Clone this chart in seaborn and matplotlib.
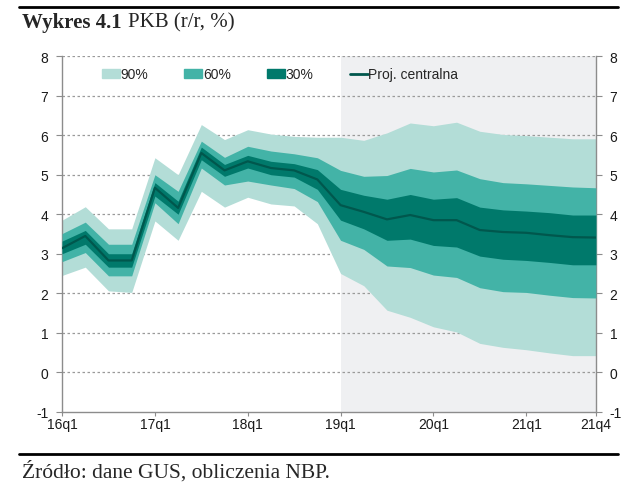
import numpy as np
import pandas as pd
import matplotlib
matplotlib.use("Agg")
import matplotlib.pyplot as plt
import seaborn as sns
from matplotlib.patches import Patch
from matplotlib.lines import Line2D

# quarters 16q1 .. 21q4
quarters = [f"{y}q{q}" for y in range(16, 22) for q in range(1, 5)]

central = [3.14, 3.45, 2.83, 2.83, 4.67, 4.16, 5.55, 5.11, 5.34, 5.17, 5.11, 4.88,
           4.23, 4.06, 3.87, 3.98, 3.85, 3.85, 3.60, 3.55, 3.53, 3.47, 3.42, 3.41]

hi30 = [3.32, 3.59, 3.00, 3.00, 4.80, 4.33, 5.70, 5.26, 5.49, 5.34, 5.28, 5.13,
        4.63, 4.48, 4.38, 4.50, 4.38, 4.42, 4.18, 4.11, 4.08, 4.04, 3.98, 3.98]
lo30 = [3.00, 3.24, 2.66, 2.66, 4.46, 4.00, 5.38, 4.96, 5.17, 5.00, 4.94, 4.63,
        3.85, 3.63, 3.34, 3.37, 3.21, 3.17, 2.94, 2.86, 2.83, 2.78, 2.72, 2.72]

hi60 = [3.51, 3.80, 3.24, 3.24, 5.00, 4.58, 5.85, 5.44, 5.72, 5.60, 5.53, 5.43,
        5.11, 4.96, 4.98, 5.16, 5.07, 5.12, 4.90, 4.80, 4.77, 4.73, 4.69, 4.67]
lo60 = [2.80, 3.03, 2.44, 2.44, 4.29, 3.76, 5.17, 4.74, 4.84, 4.74, 4.65, 4.32,
        3.34, 3.11, 2.69, 2.65, 2.46, 2.40, 2.14, 2.04, 2.02, 1.95, 1.89, 1.88]

hi90 = [3.85, 4.19, 3.63, 3.63, 5.43, 5.00, 6.27, 5.89, 6.14, 6.03, 5.97, 5.95,
        5.95, 5.87, 6.06, 6.31, 6.24, 6.33, 6.10, 6.02, 5.99, 5.95, 5.91, 5.91]
lo90 = [2.45, 2.66, 2.06, 2.02, 3.83, 3.34, 4.58, 4.18, 4.43, 4.26, 4.21, 3.76,
        2.50, 2.19, 1.57, 1.39, 1.15, 1.02, 0.73, 0.63, 0.57, 0.49, 0.42, 0.42]

tick_labels = ["16q1", "17q1", "18q1", "19q1", "20q1", "21q1", "21q4"]
proj_start = "19q1"

df = pd.DataFrame({"q": quarters, "central": central,
                   "lo30": lo30, "hi30": hi30, "lo60": lo60, "hi60": hi60,
                   "lo90": lo90, "hi90": hi90})
df["x"] = np.arange(len(df))

c90, c60, c30, cline = "#b3ddd7", "#43b3a7", "#00796b", "#00574d"

sns.set_style("white")
plt.rcParams["font.family"] = ["Liberation Sans", "DejaVu Sans"]
plt.rcParams["axes.unicode_minus"] = False

fig = plt.figure(figsize=(6.4, 4.85), dpi=100)
ax = fig.add_axes([0.097, 0.149, 0.834, 0.733])

x0 = quarters.index(proj_start)
ax.axvspan(x0, len(quarters) - 1, color="#eff0f2", lw=0, zorder=0)

ax.fill_between(df["x"], df["lo90"], df["hi90"], color=c90, lw=0, zorder=2)
ax.fill_between(df["x"], df["lo60"], df["hi60"], color=c60, lw=0, zorder=3)
ax.fill_between(df["x"], df["lo30"], df["hi30"], color=c30, lw=0, zorder=4)
sns.lineplot(data=df, x="x", y="central", color=cline, lw=1.6, ax=ax, zorder=5)

ax.set_xlim(0, len(quarters) - 1)
ax.set_ylim(-1, 8)
ax.set_yticks(range(-1, 9))
ax.set_xticks([quarters.index(t) for t in tick_labels])
ax.set_xticklabels(tick_labels)
ax.set_xlabel("")
ax.set_ylabel("")

for v in range(0, 9):
    ax.axhline(v, color="#9a9a9a", lw=0.9, ls=(0, (2, 2)), zorder=1)

for s in ["left", "right", "bottom"]:
    ax.spines[s].set_color("#8c8c8c")
    ax.spines[s].set_linewidth(1.0)
ax.spines["top"].set_visible(False)

ax.tick_params(axis="y", which="both", left=True, right=True, labelleft=True,
               labelright=True, length=4, color="#8c8c8c", labelsize=10,
               labelcolor="#1a1a1a", pad=6)
ax.tick_params(axis="x", bottom=True, direction="out", length=3, color="#8c8c8c",
               labelsize=10, labelcolor="#1a1a1a", pad=1)

handles = [Patch(color=c90, label="90%"), Patch(color=c60, label="60%"),
           Patch(color=c30, label="30%"),
           Line2D([], [], color=cline, lw=2, label="Proj. centralna")]
ax.legend(handles=handles, loc="center left", bbox_to_anchor=(0.074, 0.949), ncol=4,
          frameon=False, fontsize=10, handlelength=1.3, handleheight=0.58,
          handletextpad=0.05, columnspacing=2.6, borderpad=0, borderaxespad=0)

# header / footer
fig.add_artist(plt.Line2D([0.03, 0.965], [0.983, 0.983], color="black", lw=2,
                          transform=fig.transFigure))
fig.add_artist(plt.Line2D([0.03, 0.965], [0.062, 0.062], color="black", lw=2,
                          transform=fig.transFigure))
fig.text(0.034, 0.952, "Wykres 4.1", fontsize=15, fontweight="bold",
         family="Liberation Serif", va="center")
fig.text(0.2, 0.952, "PKB (r/r, %)", fontsize=15, family="Liberation Serif",
         va="center")
fig.text(0.034, 0.027, "Źródło: dane GUS, obliczenia NBP.", fontsize=15.5,
         family="Liberation Serif", va="center")

fig.savefig("out.png", dpi=100)
